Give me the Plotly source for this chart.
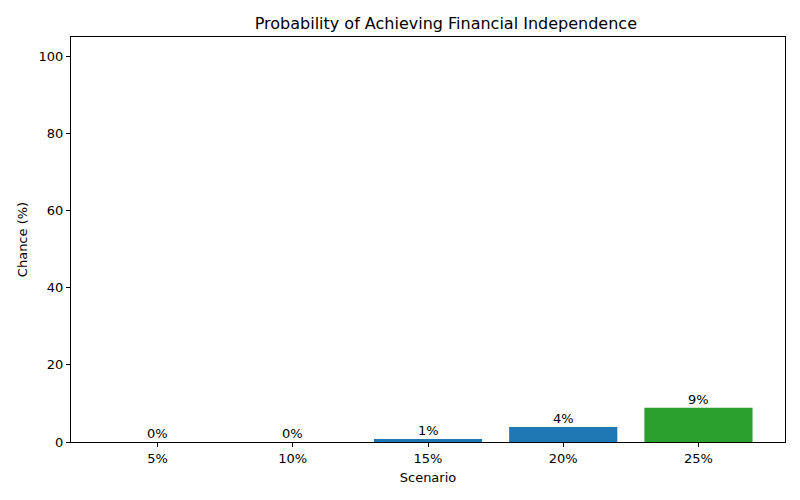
import plotly.graph_objects as go

scenarios = ["5%", "10%", "15%", "20%", "25%"]
chances = [0.0, 0.0, 0.8, 3.9, 8.9]
labels = ["0%", "0%", "1%", "4%", "9%"]
bar_colors = ["#d62728", "#d62728", "#1f77b4", "#1f77b4", "#2ca02c"]

font = "DejaVu Sans, sans-serif"

fig = go.Figure()
fig.add_trace(go.Bar(
    x=list(range(len(scenarios))),
    y=chances,
    width=0.8,
    marker_color=bar_colors,
    marker_line_width=0,
    showlegend=False,
))

# value labels above the bars
for i, (v, t) in enumerate(zip(chances, labels)):
    fig.add_annotation(x=i, y=v, text=t, showarrow=False, yanchor="bottom",
                       yshift=-1, font=dict(size=13, color="black", family=font))

axis_common = dict(
    showgrid=False, zeroline=False, showline=True, linecolor="black",
    linewidth=1, mirror=True, ticks="outside", ticklen=4, tickcolor="black",
    tickfont=dict(size=13, color="black", family=font),
)

fig.update_xaxes(
    range=[-0.64, 4.64],
    tickmode="array", tickvals=list(range(len(scenarios))), ticktext=scenarios,
    title=dict(text="Scenario", font=dict(size=13, color="black", family=font), standoff=8),
    **axis_common,
)
fig.update_yaxes(
    range=[0, 105], tickvals=[0, 20, 40, 60, 80, 100],
    title=dict(text="Chance (%)", font=dict(size=13, color="black", family=font), standoff=8),
    **axis_common,
)

# the page body adds an 8px offset, so the margins are shifted to compensate
fig.update_layout(
    width=800, height=500,
    margin=dict(l=63, r=23, t=29, b=66),
    plot_bgcolor="white", paper_bgcolor="white",
    title=dict(text="Probability of Achieving Financial Independence",
               x=(428 - 8) / 800, xanchor="center", y=1 - 15 / 500, yanchor="middle",
               xref="paper",
               font=dict(size=16, color="black", family=font)),
    bargap=0.2,
)

fig.write_html("out.html")
